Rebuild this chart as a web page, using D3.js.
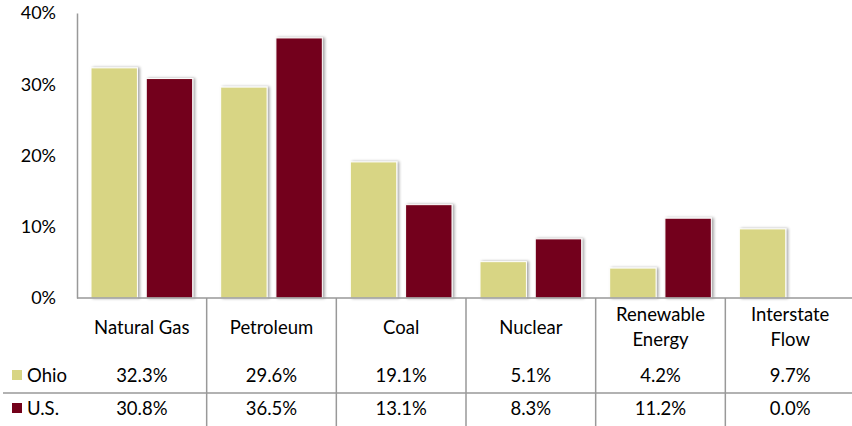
<!DOCTYPE html>
<html><head><meta charset="utf-8">
<script src="https://cdn.jsdelivr.net/npm/d3@7"></script>
<style>body{margin:0;background:#fff}svg{display:block}text{font-family:Lato,"Open Sans",sans-serif;fill:#000}</style>
</head><body><svg id="c" width="852" height="426"></svg>
<script>
const categories = [["Natural Gas"],["Petroleum"],["Coal"],["Nuclear"],["Renewable","Energy"],["Interstate","Flow"]];
const seriesNames = ["Ohio","U.S."];
const ohio = [32.3, 29.6, 19.1, 5.1, 4.2, 9.7];
const us = [30.8, 36.5, 13.1, 8.3, 11.2, 0.0];
const yTicks = [0,10,20,30,40];
const colors = ["#D8D584","#73001A"];

(function(){
const svg = d3.select("#c");
const pL = 77, pR = 855, pT = 13, pB = 298;
const fs = "18.5px";
const x = d3.scaleBand().domain(d3.range(categories.length)).range([pL,pR]).paddingInner(0).paddingOuter(0);
const y = d3.scaleLinear().domain([0,40]).range([pB,pT]);
const x1 = d3.scaleBand().domain([0,1]).range([14, x.bandwidth()-14]).paddingInner(0.16);

const defs = svg.append("defs");
const f = defs.append("filter").attr("id","sh").attr("x","-20%").attr("y","-20%").attr("width","140%").attr("height","140%");
f.append("feGaussianBlur").attr("in","SourceAlpha").attr("stdDeviation",1.5).attr("result","b");
f.append("feOffset").attr("in","b").attr("dx",2).attr("dy",0).attr("result","o");
f.append("feComponentTransfer").attr("in","o").attr("result","o2").append("feFuncA").attr("type","linear").attr("slope",0.35);
const m = f.append("feMerge"); m.append("feMergeNode").attr("in","o2"); m.append("feMergeNode").attr("in","SourceGraphic");

const series = [ohio, us];
series.forEach((vals, si) => {
  svg.append("g").selectAll("rect").data(vals).join("rect")
    .attr("x",(d,i)=>x(i)+x1(si))
    .attr("width",x1.bandwidth())
    .attr("y",d=>y(d))
    .attr("height",d=>pB-y(d))
    .attr("fill",colors[si])
    .attr("stroke",d=>d>0?"#fff":"none").attr("stroke-width",1)
    .attr("filter",d=>d>0?"url(#sh)":null);
});

const ya = svg.append("g").attr("transform",`translate(${pL},0)`)
  .call(d3.axisLeft(y).tickValues(yTicks).tickFormat(d=>d+"%").tickSize(0).tickPadding(21));
ya.select(".domain").attr("stroke","#999").attr("stroke-width",1.5);
ya.selectAll("text").style("font-size","18px").attr("fill","#000").style("font-family","Lato,'Open Sans',sans-serif");

const g = svg.append("g").attr("stroke","#999").attr("stroke-width",1.5);
g.append("line").attr("x1",pL).attr("x2",852).attr("y1",pB).attr("y2",pB);
g.append("line").attr("x1",3).attr("x2",852).attr("y1",393).attr("y2",393);
d3.range(1,categories.length).forEach(i=>{
  g.append("line").attr("x1",x(i)).attr("x2",x(i)).attr("y1",pB).attr("y2",426);
});

categories.forEach((lines,i)=>{
  const cx = x(i)+x.bandwidth()/2;
  const t = svg.append("text").attr("text-anchor","middle").style("font-size",fs);
  if(lines.length===1){
    t.append("tspan").attr("x",cx).attr("y",334).text(lines[0]);
  } else {
    lines.forEach((l,k)=>t.append("tspan").attr("x",cx).attr("y",321+k*25).text(l));
  }
});

const rowsY = [382, 415];
series.forEach((vals,si)=>{
  svg.append("g").selectAll("text").data(vals).join("text")
    .attr("x",(d,i)=>x(i)+x.bandwidth()/2).attr("y",rowsY[si])
    .attr("text-anchor","middle").style("font-size",fs)
    .text(d=>d.toFixed(1)+"%");
  svg.append("rect").attr("x",12).attr("y",rowsY[si]-12).attr("width",10).attr("height",10).attr("fill",colors[si]);
  svg.append("text").attr("x",27).attr("y",rowsY[si]).style("font-size",fs).text(seriesNames[si]);
});
})();
</script></body></html>
